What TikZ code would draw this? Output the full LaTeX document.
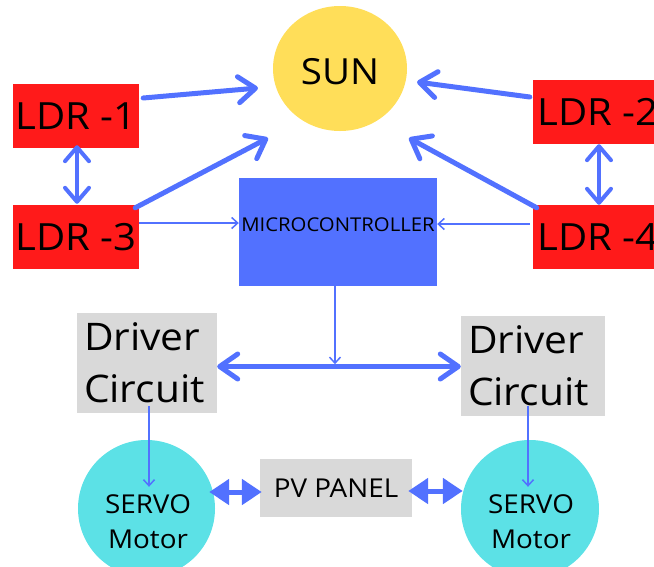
\documentclass[tikz,border=0pt]{standalone}
\usepackage{fontspec}
\setmainfont{Open Sans}[FakeStretch=1.07]
\usetikzlibrary{arrows.meta,shapes.geometric,calc}

\definecolor{ldrred}{HTML}{FF1A1A}
\definecolor{sunyellow}{HTML}{FFDE59}
\definecolor{mcblue}{HTML}{5271FF}
\definecolor{linkblue}{HTML}{5271FF}
\definecolor{servocyan}{HTML}{5CE1E6}
\definecolor{boxgray}{HTML}{D9D9D9}

\begin{document}
\begin{tikzpicture}[x=1pt,y=-1pt,
  ldrbox/.style={fill=ldrred, minimum width=126pt, minimum height=64pt,
    inner sep=0pt, font=\fontsize{37.5}{44}\selectfont},
  sunnode/.style={ellipse, fill=sunyellow, minimum width=134pt,
    minimum height=125pt, inner sep=0pt, text height=31.7pt, text depth=0pt,
    font=\fontsize{36}{42}\selectfont},
  mcbox/.style={fill=mcblue, minimum width=198pt, minimum height=108pt,
    inner sep=0pt, text height=13.6pt, text depth=15pt,
    font=\fontsize{19}{22}\selectfont},
  drvbox/.style={fill=boxgray, minimum width=140pt, minimum height=100pt,
    text width=126pt, inner sep=7pt, align=left,
    font=\fontsize{38}{52}\selectfont},
  servo/.style={circle, fill=servocyan, minimum size=137pt, inner sep=0pt},
  pvbox/.style={fill=boxgray, minimum width=152pt, minimum height=58pt,
    inner sep=0pt, font=\fontsize{26}{30}\selectfont},
  label text/.style={inner sep=0pt, align=center},
  bigarrow/.style={draw=linkblue, line width=5pt, line cap=round,
    -{Straight Barb[length=17pt,width=26pt,round]}},
  twoway/.style={draw=linkblue, line width=4pt, line cap=round,
    {Straight Barb[length=14pt,width=24pt,round]}-{Straight Barb[length=14pt,width=24pt,round]}},
  drvlink/.style={draw=linkblue, line width=5pt, line cap=round,
    {Straight Barb[length=18pt,width=25pt,round]}-{Straight Barb[length=18pt,width=25pt,round]}},
  thinarrow/.style={draw=linkblue, line width=1.5pt,
    -{Straight Barb[length=6pt,width=11pt]}},
  pvarrow/.style={draw=linkblue, line width=5pt,
    {Triangle[length=20pt,width=25pt]}-{Triangle[length=20pt,width=25pt]}}
]
\useasboundingbox (0,0) rectangle (654,566);
\clip (0,0) rectangle (654,566);

% sensors, sun and controller
\node[sunnode] (sun) at (340,68.5) {SUN};
\node[ldrbox] (ldr1) at (76,116) {LDR -1};
\node[ldrbox] (ldr3) at (76,237) {LDR -3};
\node[ldrbox, minimum width=130pt] (ldr2) at (598,111.5) {LDR -2};
\node[ldrbox, minimum width=130pt] (ldr4) at (598,237) {LDR -4};
\node[mcbox] (mc) at (338,232) {MICROCONTROLLER};

% drivers, motors and panel
\node[drvbox] (drvL) at (147,363) {Driver\\Circuit};
\node[drvbox, minimum width=144pt, text width=130pt] (drvR) at (533,365.5) {Driver\\Circuit};
\node[servo] (servoL) at (146.5,508.5) {};
\node[servo, minimum size=138pt] (servoR) at (530,509) {};
\node[label text, font=\fontsize{26}{35}\selectfont] (servoLtext) at (148,522) {SERVO\\Motor};
\node[label text, font=\fontsize{26}{35}\selectfont] (servoRtext) at (531,522) {SERVO\\Motor};
\node[pvbox] (pv) at (336,488) {PV PANEL};

% light paths towards the sun
\draw[bigarrow] ($(ldr1.east)+(4,-18)$) -- ($(sun.center)+(-82,19.5)$);
\draw[bigarrow] ($(ldr3.north east)+(-4,3)$) -- ($(sun.center)+(-72,69.5)$);
\draw[bigarrow] ($(ldr2.west)+(-3,-14.5)$) -- ($(sun.center)+(77,13.5)$);
\draw[bigarrow] ($(ldr4.north west)+(4,3)$) -- ($(sun.center)+(69,69.5)$);

% sensor pairs
\draw[twoway] ($(ldr1.south)+(1,-3)$) -- ($(ldr3.north)+(1,-1)$);
\draw[twoway] ($(ldr2.south)+(1,0.5)$) -- ($(ldr4.north)+(1,0)$);

% sensor signals into the controller
\draw[thinarrow] ($(ldr3.east)+(0,-14)$) -- ($(mc.west)+(0,-9)$);
\draw[thinarrow] ($(ldr4.west)+(-3,-13)$) -- ($(mc.east)+(0,-8)$);

% controller to drivers
\draw[drvlink] ($(drvL.east)+(0,3.5)$) -- ($(drvR.west)+(0,1)$);
\draw[thinarrow] ($(mc.south)+(-3,0)$) -- ($(mc.south)+(-3,78)$);

% drivers to motors
\draw[thinarrow] ($(drvL.south)+(2,-7)$) -- ($(servoL.north)+(2.5,47)$);
\draw[thinarrow] ($(drvR.south)+(-5,-10)$) -- ($(servoR.north)+(-2,47)$);

% motors and panel
\draw[pvarrow] ($(servoL.east)+(-6,-16.5)$) -- ($(pv.west)+(2,4)$);
\draw[pvarrow] ($(pv.east)+(-4,3)$) -- ($(servoR.west)+(2,-18)$);
\end{tikzpicture}
\end{document}
